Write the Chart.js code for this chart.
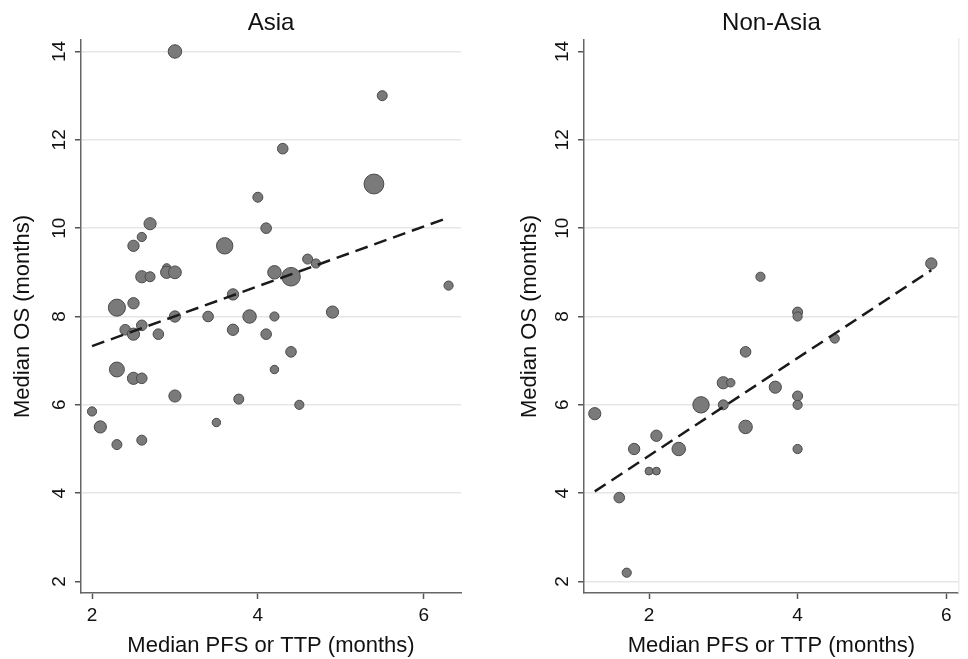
<!DOCTYPE html>
<html>
<head>
<meta charset="utf-8">
<script src="https://cdn.jsdelivr.net/npm/chart.js@4"></script>
<style>
	html, body { margin: 0; padding: 0; background: #fff; }
	#wrap { position: relative; width: 968px; height: 659px; }
	.panel { position: absolute; top: 0; height: 659px; }
</style>
</head>
<body>
<div id="wrap">
	<div class="panel" style="left:0;width:480px"><canvas id="asia" width="480" height="659"></canvas></div>
	<div class="panel" style="left:480px;width:488px"><canvas id="nonasia" width="488" height="659"></canvas></div>
</div>
<script>
// Asia trials: PFS/TTP (x), OS (y), study weight (bubble area)
const asiaPFS = [3.0, 5.5, 4.3, 5.4, 4.0, 4.1, 2.7, 2.5, 2.6, 3.6, 4.6, 4.7, 4.2, 4.4, 2.9, 2.9, 3.0, 2.6, 2.7, 6.3,
	3.7, 2.3, 2.5, 4.9, 3.0, 3.4, 3.9, 4.2, 2.4, 2.6, 2.5, 2.8, 3.7, 4.1, 4.4, 2.3, 2.5, 2.6, 4.2, 3.0,
	3.77, 4.5, 2.0, 2.1, 3.5, 2.3, 2.6];
const asiaOS = [14.0, 13.0, 11.8, 11.0, 10.7, 10.0, 10.1, 9.6, 9.8, 9.6, 9.3, 9.2, 9.0, 8.9, 9.1, 9.0, 9.0, 8.9, 8.9, 8.7,
	8.5, 8.2, 8.3, 8.1, 8.0, 8.0, 8.0, 8.0, 7.7, 7.8, 7.6, 7.6, 7.7, 7.6, 7.2, 6.8, 6.6, 6.6, 6.8, 6.2,
	6.13, 6.0, 5.85, 5.5, 5.6, 5.1, 5.2];
const asiaWeight = [71, 39, 44, 154, 39, 44, 58, 50, 33, 105, 39, 33, 71, 135, 28, 58, 64, 58, 39, 33,
	50, 114, 50, 58, 50, 44, 71, 33, 44, 44, 58, 44, 50, 44, 44, 87, 58, 44, 28, 58,
	39, 33, 33, 58, 28, 39, 39];
const asiaFitX = [2.0, 6.3];
const asiaFitY = [7.33, 10.24];

// Non-Asia trials
const nonAsiaPFS = [3.5, 4.0, 4.0, 5.8, 4.5, 3.3, 3.0, 3.1, 3.7, 2.7, 3.0, 4.0, 4.0, 1.27, 3.3, 2.1, 1.8, 2.4, 4.0, 2.0,
	2.1, 1.6, 1.7];
const nonAsiaOS = [8.9, 8.1, 8.0, 9.2, 7.5, 7.2, 6.5, 6.5, 6.4, 6.0, 6.0, 6.2, 6.0, 5.8, 5.5, 5.3, 5.0, 5.0, 5.0, 4.5,
	4.5, 3.9, 2.2];
const nonAsiaWeight = [33, 39, 33, 50, 33, 44, 58, 28, 58, 105, 39, 39, 33, 58, 71, 50, 50, 71, 33, 24,
	24, 44, 33];
const nonAsiaFitX = [1.27, 5.8];
const nonAsiaFitY = [4.04, 9.05];

const xTicks = [2, 4, 6];
const yTicks = [2, 4, 6, 8, 10, 12, 14];

const FONT = '"Liberation Sans", Arial, sans-serif';

//draws the titles and rotated y labels in stata style
const stataText = {
	id: 'stataText',
	afterDraw(chart, args, opts) {
		let ctx = chart.ctx;
		let area = chart.chartArea;
		let yScale = chart.scales.y;
		ctx.save();
		ctx.fillStyle = '#111';

		ctx.font = '24px ' + FONT;
		ctx.textAlign = 'center';
		ctx.textBaseline = 'middle';
		ctx.fillText(opts.title, (area.left + area.right) / 2, 23);

		ctx.font = '22px ' + FONT;
		ctx.textBaseline = 'alphabetic';
		ctx.fillText('Median PFS or TTP (months)', (area.left + area.right) / 2, 652);

		ctx.save();
		ctx.translate(opts.yTitleX, (area.top + area.bottom) / 2);
		ctx.rotate(-Math.PI / 2);
		ctx.textBaseline = 'middle';
		ctx.fillText('Median OS (months)', 0, 0);
		ctx.restore();

		ctx.font = '19px ' + FONT;
		yTicks.forEach(v => {
			ctx.save();
			ctx.translate(area.left - 21, yScale.getPixelForValue(v));
			ctx.rotate(-Math.PI / 2);
			ctx.textBaseline = 'middle';
			ctx.fillText(String(v), 0, 0);
			ctx.restore();
		});

		if(opts.rightEdge) {
			ctx.strokeStyle = '#ececec';
			ctx.lineWidth = 1.5;
			ctx.beginPath();
			ctx.moveTo(area.right, area.top - 2);
			ctx.lineTo(area.right, area.bottom);
			ctx.stroke();
		}
		ctx.restore();
	}
};

const makePanel = (id, p) => {
	let points = p.xs.map((x, i) => ({x: x, y: p.ys[i], r: 0.8 * Math.sqrt(p.w[i])}));
	let fit = p.fitX.map((x, i) => ({x: x, y: p.fitY[i]}));

	return new Chart(document.getElementById(id), {
		type: 'bubble',
		plugins: [stataText],
		data: {
			datasets: [
				{
					type: 'line',
					data: fit,
					order: 0,
					borderColor: '#1a1a1a',
					borderWidth: 2.5,
					borderDash: [13, 7],
					pointRadius: 0,
					fill: false
				},
				{
					data: points,
					order: 1,
					backgroundColor: '#7a7a7a',
					borderColor: '#4a4a4a',
					borderWidth: 1,
					hoverRadius: 0
				}
			]
		},
		options: {
			responsive: false,
			animation: false,
			events: [],
			layout: {padding: {left: 0, right: p.width - p.right, top: 40, bottom: 0}},
			plugins: {
				legend: {display: false},
				tooltip: {enabled: false},
				stataText: {title: p.title, yTitleX: p.yTitleX, rightEdge: p.rightEdge}
			},
			scales: {
				x: {
					type: 'linear',
					min: p.xMin,
					max: p.xMax,
					afterBuildTicks: scale => { scale.ticks = xTicks.map(v => ({value: v})); },
					afterFit: scale => { scale.height = 66; },
					grid: {drawOnChartArea: false, drawTicks: true, tickLength: 6, tickColor: '#555', tickWidth: 1.5},
					border: {display: true, color: '#666', width: 1.5},
					ticks: {font: {family: FONT, size: 19}, color: '#111', padding: 5, maxRotation: 0}
				},
				y: {
					type: 'linear',
					min: 1.74,
					max: 14.26,
					afterBuildTicks: scale => { scale.ticks = yTicks.map(v => ({value: v})); },
					afterFit: scale => { scale.width = p.left; },
					grid: {
						color: c => (c.tick && c.tick.value === p.noGrid) ? 'rgba(0,0,0,0)' : '#e6e6e6',
						lineWidth: 1.5,
						drawTicks: true,
						tickLength: 6,
						tickColor: '#555',
						tickWidth: 1.5
					},
					border: {display: true, color: '#666', width: 1.5},
					ticks: {display: false}
				}
			}
		}
	});
};

makePanel('asia', {
	title: 'Asia', xs: asiaPFS, ys: asiaOS, w: asiaWeight, fitX: asiaFitX, fitY: asiaFitY,
	width: 480, left: 81, right: 461, xMin: 1.867, xMax: 6.45, noGrid: 2, yTitleX: 23, rightEdge: false
});
makePanel('nonasia', {
	title: 'Non-Asia', xs: nonAsiaPFS, ys: nonAsiaOS, w: nonAsiaWeight, fitX: nonAsiaFitX, fitY: nonAsiaFitY,
	width: 488, left: 104, right: 485, xMin: 1.125, xMax: 6.17, noGrid: 14, yTitleX: 50, rightEdge: true
});
</script>
</body>
</html>
